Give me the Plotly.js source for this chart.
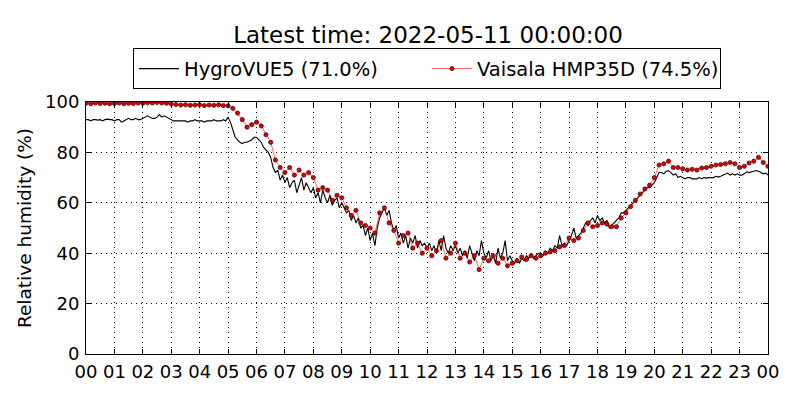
<!DOCTYPE html>
<html>
<head>
<meta charset="utf-8">
<script src="https://cdn.plot.ly/plotly-3.0.1.min.js"></script>
<style>
  html, body { margin: 0; padding: 0; background: #fff; }
  #chart { width: 800px; height: 400px; }
</style>
</head>
<body>
<div id="chart"></div>
<script>
// HygroVUE5, every 5 minutes from 2022-05-10 00:00 to 2022-05-11 00:00
const hygroStart = "2022-05-10 00:00:00";
const hygroStepMs = 5 * 60 * 1000;
const hygroValues = [
  93, 93, 92.5, 93, 93, 92.8, 93, 92.5, 93, 93.2, 93, 93,
  92.5, 93, 93, 92, 92.5, 93, 93.5, 93, 93, 93.5, 93, 93,
  93.5, 94, 94.5, 94, 93.5, 93.5, 94, 95, 94, 94.5, 94, 93.5,
  93, 92.5, 92.5, 92.5, 92.5, 92.5, 92.5, 92, 92.5, 92.5, 93, 92.5,
  92.5, 92.5, 92, 92.5, 92.5, 92.5, 93, 92.5, 92.5, 92.5, 93, 92.5,
  94, 92, 89, 86, 85, 84, 83.5, 84, 84, 84.5, 85, 86,
  86, 85, 84, 82, 81, 80, 78, 74, 72, 73, 69, 71,
  68, 70, 66, 68, 69, 64, 67, 70, 65, 68, 66, 64,
  66, 62, 64, 60, 65, 62, 60, 63, 59, 61, 62, 58,
  60, 58, 56, 57, 53, 55, 52, 54, 50, 51, 47, 50,
  45, 48, 43, 50, 54, 56, 58, 55, 57, 52, 49, 51,
  46, 48, 44, 47, 42, 46, 44, 47, 42, 45, 43, 44,
  42, 44, 41, 43, 40, 45, 41, 47, 42, 40, 43, 41,
  43, 40, 42, 39, 41, 38, 43, 40, 37, 41, 39, 45,
  40, 38, 41, 37, 39, 36, 42, 38, 40, 45, 37, 39,
  37, 36, 38, 36, 38, 37, 39, 38, 40, 38, 39, 40,
  40, 39, 41, 40, 42, 41, 43, 42, 47, 43, 44, 43,
  45, 47, 50, 46, 47, 48, 50, 52, 51, 53, 54, 52,
  55, 53, 54, 52, 53, 50, 51, 52, 53, 54, 56, 56,
  57, 58, 59, 60, 61, 62, 63, 64, 65, 66, 66, 67,
  68, 70, 72, 72, 71.5, 72.5, 72.7, 72, 71, 71.5, 70, 70.5,
  70, 69.5, 70, 70, 69.5, 69.5, 69.5, 70, 69.5, 70, 69.8, 70,
  70, 70, 70.5, 70.2, 70.5, 71, 71.5, 71.8, 71, 71.5, 71, 71.5,
  71, 71, 71.5, 72.3, 72, 72.2, 72.5, 72.8, 72.5, 72, 71.5, 71.8,
  71.0
];

// Vaisala HMP35D, every 10 minutes over the same day
const vaisalaStart = "2022-05-10 00:00:00";
const vaisalaStepMs = 10 * 60 * 1000;
const vaisalaValues = [
  99.5, 99.3, 99.6, 99.4, 99.5, 99.3,
  99.4, 99.6, 99.3, 99.5, 99.4, 99.6,
  99.5, 99.7, 99.6, 99.8, 99.6, 99.5,
  99.2, 99, 98.8, 98.9, 98.7, 98.8,
  98.9, 98.6, 98.8, 98.7, 98.9, 98.6,
  98.5, 97.5, 95.6, 93, 90, 91,
  92, 90.5, 87, 84, 77, 74,
  72, 74, 71, 73, 71, 72,
  70, 65, 66, 65, 61, 63,
  62, 58, 55, 57, 52, 51,
  50, 48, 56, 58, 52, 49,
  44, 47, 48, 42, 44, 40,
  42, 39, 41, 45, 38, 40,
  44, 38, 40, 36.5, 39, 33.5,
  38, 37, 39, 36, 38, 35,
  36, 37, 38.5, 37.5, 39, 38,
  39, 40, 40.5, 41, 42.5, 43,
  46, 45, 46, 49, 52, 50.5,
  51, 52, 51.5, 50.5, 50.5, 54,
  56, 58.5, 61, 63.5, 65.5, 67,
  70, 75, 75.5, 76.5, 74, 74,
  73.5, 73, 73.3, 73, 73.8, 74,
  74.5, 75, 75.2, 75.5, 76, 75.5,
  74, 74.5, 75.8, 76.5, 78, 76,
  74.5
];

const latestTime = "2022-05-11 00:00:00";
const hygroName = "HygroVUE5 (" + hygroValues[hygroValues.length - 1].toFixed(1) + "%)";
const vaisalaName = "Vaisala HMP35D (" + vaisalaValues[vaisalaValues.length - 1].toFixed(1) + "%)";

const traces = [
  {
    type: "scatter",
    mode: "lines",
    name: hygroName,
    x0: hygroStart,
    dx: hygroStepMs,
    y: hygroValues,
    line: { color: "black", width: 1.1 },
  },
  {
    type: "scatter",
    mode: "lines+markers",
    name: vaisalaName,
    x0: vaisalaStart,
    dx: vaisalaStepMs,
    y: vaisalaValues,
    line: { color: "red", width: 0.6 },
    marker: { color: "#e00000", size: 4.2, line: { color: "#3a0000", width: 0.7 } },
  },
];

const axisCommon = {
  showline: true,
  mirror: "ticks",
  linecolor: "black",
  linewidth: 1,
  ticks: "inside",
  ticklen: 5,
  tickcolor: "black",
  showgrid: true,
  gridcolor: "black",
  griddash: "1px,4px",
  gridwidth: 1,
  zeroline: false,
  tickfont: { size: 18, color: "black" },
};

const layout = {
  width: 800,
  height: 400,
  margin: { l: 86, r: 32, t: 102, b: 46 },
  paper_bgcolor: "white",
  plot_bgcolor: "white",
  font: { family: "DejaVu Sans", color: "black" },
  title: {
    text: "Latest time: " + latestTime,
    font: { size: 23, color: "black" },
    x: 0.535,
    xanchor: "center",
    y: 0.912,
    yanchor: "middle",
  },
  showlegend: true,
  legend: {
    orientation: "h",
    x: 0.5,
    xanchor: "center",
    y: 1.05,
    yanchor: "bottom",
    bordercolor: "black",
    borderwidth: 1,
    font: { size: 19.5, color: "black" },
    itemwidth: 40,
    entrywidth: 238,
  },
  xaxis: Object.assign({}, axisCommon, {
    type: "date",
    range: ["2022-05-10 00:00:00", "2022-05-11 00:00:00"],
    tick0: "2022-05-10 00:00:00",
    dtick: 3600000,
    tickformat: "%H",
    ticklabelstandoff: 1,
  }),
  yaxis: Object.assign({}, axisCommon, {
    range: [0, 100],
    dtick: 20,
    ticklabelstandoff: 2,
    title: { text: "Relative humidity (%)", font: { size: 18.5, color: "black" }, standoff: 8 },
  }),
};

Plotly.newPlot("chart", traces, layout, { staticPlot: true, displayModeBar: false });
</script>
</body>
</html>
